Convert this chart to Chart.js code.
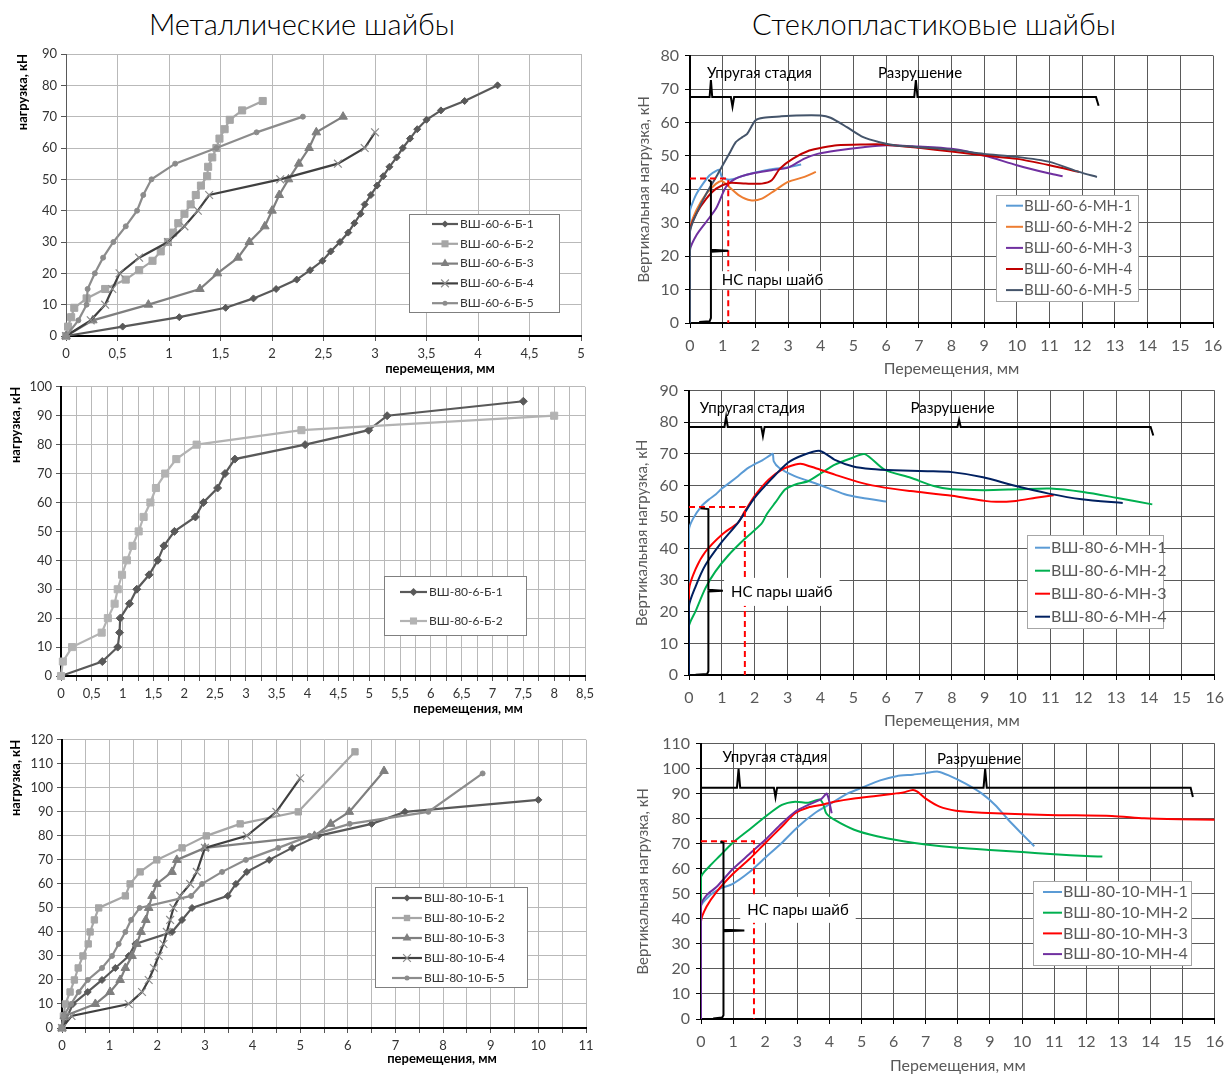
<!DOCTYPE html>
<html lang="ru">
<head>
<meta charset="utf-8">
<script src="https://cdn.jsdelivr.net/npm/chart.js@4.4.1/dist/chart.umd.min.js"></script>
<style>
  html, body { margin: 0; padding: 0; background: #fff; }
  #page { position: relative; width: 1232px; height: 1075px; overflow: hidden; }
  .head { position: absolute; top: 6px; font: 300 29px Lato, sans-serif; text-align: center; color: #000; }
  canvas { position: absolute; }
</style>
</head>
<body>
<div id="page">
  <div class="head" style="left:0;width:604px">Металлические шайбы</div>
  <div class="head" style="left:616px;width:636px">Стеклопластиковые шайбы</div>
  <canvas id="c1" width="600" height="345" style="left:0;top:40px"></canvas>
  <canvas id="c2" width="600" height="345" style="left:0;top:375px"></canvas>
  <canvas id="c3" width="600" height="347" style="left:0;top:728px"></canvas>
  <canvas id="c4" width="617" height="345" style="left:615px;top:40px"></canvas>
  <canvas id="c5" width="617" height="355" style="left:615px;top:375px"></canvas>
  <canvas id="c6" width="617" height="347" style="left:615px;top:728px"></canvas>
</div>
<script>
// ---- металлические шайбы, ВШ-60-6-Б ----
const b60Labels = ["ВШ-60-6-Б-1", "ВШ-60-6-Б-2", "ВШ-60-6-Б-3", "ВШ-60-6-Б-4", "ВШ-60-6-Б-5"];
const b60_1x = [0, 0.55, 1.1, 1.55, 1.82, 2.04, 2.24, 2.37, 2.49, 2.57, 2.66, 2.74, 2.8, 2.86, 2.9, 2.96, 3.02, 3.08, 3.14, 3.21, 3.27, 3.34, 3.41, 3.5, 3.64, 3.87, 4.19];
const b60_1y = [0, 3, 6, 9, 12, 15, 18, 21, 24, 27, 30, 33, 36, 39, 42, 45, 48, 51, 54, 57, 60, 63, 66, 69, 72, 75, 80];
const b60_2x = [0, 0.02, 0.05, 0.08, 0.2, 0.38, 0.58, 0.71, 0.84, 0.92, 0.99, 1.04, 1.09, 1.15, 1.21, 1.26, 1.31, 1.37, 1.38, 1.42, 1.46, 1.49, 1.54, 1.59, 1.71, 1.91];
const b60_2y = [0, 3, 6, 9, 12, 15, 18, 21, 24, 27, 30, 33, 36, 39, 42, 45, 48, 51, 54, 57, 60, 63, 66, 69, 72, 75];
const b60_3x = [0, 0.26, 0.8, 1.3, 1.47, 1.67, 1.78, 1.93, 2.0, 2.07, 2.16, 2.26, 2.36, 2.43, 2.69];
const b60_3y = [0, 5, 10, 15, 20, 25, 30, 35, 40, 45, 50, 55, 60, 65, 70];
const b60_4x = [0, 0.24, 0.38, 0.45, 0.52, 0.71, 0.99, 1.15, 1.28, 1.39, 2.08, 2.64, 2.9, 3.0];
const b60_4y = [0, 5, 10, 15, 20, 25, 30, 35, 40, 45, 50, 55, 60, 65];
const b60_5x = [0, 0.12, 0.2, 0.21, 0.28, 0.36, 0.46, 0.58, 0.69, 0.75, 0.83, 1.06, 1.46, 1.85, 2.3];
const b60_5y = [0, 5, 10, 15, 20, 25, 30, 35, 40, 45, 50, 55, 60, 65, 70];

// ---- ВШ-80-6-Б ----
const b80Labels = ["ВШ-80-6-Б-1", "ВШ-80-6-Б-2"];
const b80_1x = [0, 0.67, 0.92, 0.95, 0.96, 1.11, 1.23, 1.43, 1.57, 1.67, 1.84, 2.18, 2.31, 2.54, 2.66, 2.82, 3.96, 4.99, 5.29, 7.5];
const b80_1y = [0, 5, 10, 15, 20, 25, 30, 35, 40, 45, 50, 55, 60, 65, 70, 75, 80, 85, 90, 95];
const b80_2x = [0, 0.03, 0.18, 0.66, 0.76, 0.87, 0.92, 0.99, 1.07, 1.16, 1.26, 1.34, 1.45, 1.54, 1.69, 1.87, 2.2, 3.9, 8.0];
const b80_2y = [0, 5, 10, 15, 20, 25, 30, 35, 40, 45, 50, 55, 60, 65, 70, 75, 80, 85, 90];

// ---- ВШ-80-10-Б ----
const b8010Labels = ["ВШ-80-10-Б-1", "ВШ-80-10-Б-2", "ВШ-80-10-Б-3", "ВШ-80-10-Б-4", "ВШ-80-10-Б-5"];
const b8010_1x = [0, 0.23, 0.54, 0.84, 1.12, 1.4, 1.54, 2.31, 2.52, 2.73, 3.48, 3.65, 3.88, 4.35, 4.83, 5.38, 6.5, 7.2, 10.0];
const b8010_1y = [0, 10, 15, 20, 25, 30, 35, 40, 45, 50, 55, 60, 65, 70, 75, 80, 85, 90, 95];
const b8010_2x = [0, 0.03, 0.07, 0.17, 0.26, 0.34, 0.44, 0.55, 0.59, 0.68, 0.77, 1.33, 1.43, 1.64, 1.99, 2.52, 3.03, 3.74, 4.96, 6.15];
const b8010_2y = [0, 5, 10, 15, 20, 25, 30, 35, 40, 45, 50, 55, 60, 65, 70, 75, 80, 85, 90, 115];
const b8010_3x = [0, 0.05, 0.7, 1.01, 1.22, 1.33, 1.47, 1.57, 1.66, 1.76, 1.82, 1.89, 1.99, 2.31, 2.41, 3.0, 5.3, 5.64, 6.03, 6.76];
const b8010_3y = [0, 5, 10, 15, 20, 25, 30, 35, 40, 45, 50, 55, 60, 65, 70, 75, 80, 85, 90, 107];
const b8010_4x = [0, 0.2, 1.4, 1.68, 1.82, 1.93, 2.03, 2.13, 2.2, 2.27, 2.34, 2.48, 2.69, 2.83, 3.0, 3.88, 4.5, 5.0];
const b8010_4y = [0, 5, 10, 15, 20, 25, 30, 35, 40, 45, 50, 55, 60, 65, 75, 80, 90, 104];
const b8010_5x = [0, 0.03, 0.19, 0.35, 0.54, 0.84, 1.05, 1.19, 1.33, 1.45, 1.63, 2.71, 2.94, 3.36, 3.86, 4.54, 5.2, 6.04, 7.69, 8.83];
const b8010_5y = [0, 5, 10, 15, 20, 25, 30, 35, 40, 45, 50, 55, 60, 65, 70, 75, 80, 85, 90, 106];

// ---- стеклопластиковые шайбы, ВШ-60-6-МН ----
const mn60Labels = ["ВШ-60-6-МН-1", "ВШ-60-6-МН-2", "ВШ-60-6-МН-3", "ВШ-60-6-МН-4", "ВШ-60-6-МН-5"];
const mn60_1x = [0, 0, 0.1, 0.2, 0.4, 0.6, 0.8, 0.9, 0.97, 1.1, 1.3, 1.6, 2.0, 2.5, 3.0, 3.4];
const mn60_1y = [0, 33.5, 36.5, 38.7, 41.7, 44.2, 45.5, 45.8, 43.8, 43, 43, 44, 45, 46, 46.6, 47.4];
const mn60_2x = [0, 0, 0.2, 0.5, 0.8, 0.97, 1.2, 1.5, 1.85, 2.2, 2.6, 3.0, 3.5, 3.85];
const mn60_2y = [0, 28.3, 33.8, 38.7, 41.7, 42.5, 40.7, 38.2, 36.7, 37.2, 39.7, 42.2, 43.7, 45.2];
const mn60_3x = [0, 0, 0.2, 0.5, 0.8, 1.1, 1.4, 1.9, 2.5, 3.0, 3.5, 3.9, 4.5, 5.3, 6.0, 7.0, 8, 9, 10, 11, 11.4];
const mn60_3y = [0, 21.8, 26.3, 30.3, 34.3, 40.7, 43.2, 44.7, 45.7, 46.5, 49.2, 50.6, 51.6, 52.6, 53.2, 52.8, 52.1, 50.1, 47.2, 44.7, 43.9];
const mn60_4x = [0, 0, 0.2, 0.5, 0.8, 1.2, 1.7, 2.2, 2.5, 2.75, 3.15, 3.65, 4.1, 4.5, 5.3, 5.9, 7.0, 8, 9, 10, 11, 11.9];
const mn60_4y = [0, 27.8, 32.8, 37.2, 40.2, 41.9, 41.7, 41.7, 42.7, 46.2, 49.2, 51.6, 52.6, 53.2, 53.4, 53.4, 52.4, 51.3, 50.1, 49.1, 47.2, 45.2];
const mn60_5x = [0, 0, 0.2, 0.5, 0.8, 1.0, 1.2, 1.4, 1.6, 1.75, 2.0, 2.25, 2.75, 3.25, 4.0, 4.3, 4.8, 5.3, 5.8, 6.3, 6.8, 7.0, 8, 9, 10, 11, 11.9, 12.45];
const mn60_5y = [0, 27.3, 32.8, 38.7, 43.7, 47.2, 50.6, 54.1, 55.6, 56.6, 60.6, 61.4, 61.8, 62.1, 62.1, 61.4, 58.6, 55.6, 54.1, 53.1, 52.8, 52.6, 51.8, 50.6, 49.7, 48.2, 45.2, 43.7];
const brace60x = [0, 0, 0.6, 0.64, 0.68, 1.25, 1.3, 1.35, 6.86, 6.91, 6.96, 12.42, 12.5];
const brace60y = [66, 67.6, 67.6, 72.7, 67.6, 67.6, 64.7, 67.6, 67.6, 72.7, 67.6, 67.6, 65];
const ns60x = [0.28, 0.6, 0.64, 0.64, 1.17, 0.64, 0.64, 0.56];
const ns60y = [0.3, 0.5, 1.5, 21.3, 21.6, 21.9, 42.3, 42.8];
const red60x = [0, 1.17, 1.17];
const red60y = [43.2, 43.2, 0];

// ---- ВШ-80-6-МН ----
const mn80Labels = ["ВШ-80-6-МН-1", "ВШ-80-6-МН-2", "ВШ-80-6-МН-3", "ВШ-80-6-МН-4"];
const mn80_1x = [0, 0, 0.12, 0.37, 0.6, 0.82, 1.0, 1.23, 1.5, 1.73, 2.0, 2.23, 2.45, 2.55, 2.58, 2.75, 3.2, 3.94, 4.74, 5.25, 6.0];
const mn80_1y = [0, 46, 49.4, 53.3, 55.5, 57.2, 59, 60.8, 63, 65, 66.7, 67.9, 69.4, 70, 67.6, 65.5, 63, 60.3, 57.2, 56.1, 54.9];
const mn80_2x = [0, 0, 0.2, 0.5, 0.8, 1.2, 1.7, 2.2, 2.38, 2.63, 2.93, 3.24, 3.64, 4.04, 4.44, 4.94, 5.35, 5.95, 6.75, 7.45, 8, 9, 10, 11, 12, 13, 14.1];
const mn80_2y = [0, 15.5, 20.2, 27.5, 32.7, 37.9, 43.1, 47.8, 51.1, 54.6, 58.75, 60.3, 61.4, 64, 66.6, 68.6, 69.9, 65, 62.4, 59.8, 58.75, 58.5, 58.75, 59, 57.9, 56.1, 54];
const mn80_3x = [0, 0, 0.2, 0.5, 1, 1.5, 1.68, 2, 2.43, 2.83, 3.24, 3.44, 3.84, 4.44, 5.25, 5.95, 6.75, 8, 9, 9.35, 9.95, 10.55, 11.1];
const mn80_3y = [0, 27, 33.5, 39, 44.4, 48.3, 51.5, 56.7, 61.9, 65, 66.6, 66.8, 65.5, 63.4, 60.8, 59.3, 58.2, 56.7, 55.1, 54.8, 55.1, 56.1, 56.9];
const mn80_4x = [0, 0, 0.2, 0.5, 1, 1.5, 2, 2.5, 3, 3.5, 3.99, 4.44, 5, 5.55, 6.25, 7.26, 8, 8.95, 9.95, 10.95, 11.95, 13.2];
const mn80_4y = [0, 21.8, 28, 34.8, 42.1, 48.3, 56.1, 61.9, 67.1, 69.7, 70.9, 68.1, 66, 65.2, 64.8, 64.5, 64.2, 62.6, 59.8, 57.4, 55.6, 54.4];
const brace80x = [0, 0, 1.08, 1.13, 1.18, 2.2, 2.25, 2.3, 8.17, 8.22, 8.27, 14.05, 14.13];
const brace80y = [76.8, 78.5, 78.5, 81.7, 78.5, 78.5, 75.6, 78.5, 78.5, 80.8, 78.5, 78.5, 75.8];
const ns80x = [0.2, 0.55, 0.59, 0.59, 1.03, 0.59, 0.59, 0.35];
const ns80y = [0.1, 0.3, 1.2, 26.4, 26.7, 27.0, 52.5, 52.8];
const red80x = [0, 1.7, 1.7];
const red80y = [53.2, 53.2, 0];

// ---- ВШ-80-10-МН ----
const mn8010Labels = ["ВШ-80-10-МН-1", "ВШ-80-10-МН-2", "ВШ-80-10-МН-3", "ВШ-80-10-МН-4"];
const mn8010_1x = [0, 0, 0.28, 0.58, 0.99, 1.5, 2.01, 2.52, 3.03, 3.54, 4.05, 4.56, 5.07, 5.58, 6.09, 6.6, 7.0, 7.38, 7.73, 8.24, 8.75, 9.16, 9.57, 9.97, 10.38];
const mn8010_1y = [0, 45, 49.4, 52, 54, 58.6, 64.5, 70.4, 76.9, 82.2, 86.1, 90, 92.7, 95.3, 97, 97.6, 98.2, 98.8, 97.2, 94, 90, 85.5, 79.6, 74.3, 69];
const mn8010_2x = [0, 0, 0.28, 0.58, 0.99, 1.5, 2.01, 2.52, 2.93, 3.34, 3.69, 3.8, 3.9, 4.15, 4.77, 5.48, 6.3, 7, 8, 9, 10, 11, 12, 12.5];
const mn8010_2y = [0, 56.6, 61.2, 65.1, 70.4, 75.6, 80.9, 85.5, 86.8, 86.4, 87.7, 86, 82.2, 79.6, 75.6, 73, 71, 69.7, 68.4, 67.5, 66.7, 65.8, 65.1, 64.9];
const mn8010_3x = [0, 0, 0.17, 0.48, 0.99, 1.5, 2.01, 2.52, 2.93, 3.34, 3.74, 4.15, 4.77, 5.38, 6.0, 6.3, 6.6, 6.75, 7.0, 7.43, 7.94, 8.75, 10.8, 12.8, 13.8, 14.9, 16];
const mn8010_3y = [0, 38.9, 44.8, 50.7, 57.9, 63.8, 70.4, 76.9, 82.2, 84.5, 85.5, 86.8, 88.1, 89, 90, 90.5, 91.5, 90.7, 88, 84.8, 83.2, 82.4, 81.5, 81.1, 80.2, 79.8, 79.6];
const mn8010_4x = [0, 0, 0.17, 0.48, 0.99, 1.5, 2.01, 2.52, 2.93, 3.34, 3.74, 3.92, 4.07];
const mn8010_4y = [0, 45.5, 49.4, 52.7, 59.9, 65.8, 71.7, 78.2, 82.8, 85.5, 87.8, 90, 82.2];
const brace8010x = [0, 0, 1.12, 1.17, 1.22, 2.27, 2.32, 2.37, 8.8, 8.85, 8.9, 15.25, 15.32];
const brace8010y = [88.7, 92.4, 92.4, 99.9, 92.4, 92.4, 88.5, 92.4, 92.4, 99.9, 92.4, 92.4, 88.7];
const ns8010x = [0.38, 0.66, 0.7, 0.7, 1.35, 0.7, 0.7, 0.6];
const ns8010y = [0.2, 0.6, 1.5, 35.0, 35.3, 35.6, 70.4, 70.9];
const red8010x = [0, 1.65, 1.65];
const red8010y = [71, 71, 0];

function pts(xs, ys) { return xs.map((x, i) => ({ x: x, y: ys[i] })); }
function comma(v) { return String(+v.toFixed(2)).replace(".", ","); }

function steel(label, xs, ys, color, style, r, markColor) {
  return {
    label, data: pts(xs, ys), showLine: true, tension: 0, clip: 8,
    borderColor: color, backgroundColor: color, borderWidth: 2.2,
    pointStyle: style, pointRadius: r, pointHoverRadius: r,
    pointBackgroundColor: markColor || color, pointBorderColor: markColor || color,
    pointBorderWidth: style === "crossRot" ? 1.2 : 1
  };
}
function glass(label, xs, ys, color) {
  return { label, data: pts(xs, ys), showLine: true, tension: 0.25, borderColor: color,
    backgroundColor: color, borderWidth: 2, pointRadius: 0 };
}
function mark(xs, ys, color, dash) {
  return { note: true, data: pts(xs, ys), showLine: true, tension: 0, borderColor: color,
    borderWidth: 2, borderDash: dash || [], pointRadius: 0, order: -10, clip: false };
}

function marker(ctx, style, x, y, r, color) {
  ctx.fillStyle = color; ctx.strokeStyle = color; ctx.lineWidth = 1.2;
  ctx.beginPath();
  if (style === "rectRot") {
    ctx.moveTo(x, y - r); ctx.lineTo(x + r, y); ctx.lineTo(x, y + r); ctx.lineTo(x - r, y); ctx.closePath(); ctx.fill();
  } else if (style === "rect") {
    const s = r * Math.SQRT1_2; ctx.rect(x - s, y - s, 2 * s, 2 * s); ctx.fill();
  } else if (style === "triangle") {
    let a = 0;
    for (let k = 0; k < 3; k++) { const px = x + Math.sin(a) * r, py = y - Math.cos(a) * r; k ? ctx.lineTo(px, py) : ctx.moveTo(px, py); a += Math.PI * 2 / 3; }
    ctx.closePath(); ctx.fill();
  } else if (style === "crossRot") {
    const s = r * Math.SQRT1_2;
    ctx.moveTo(x - s, y - s); ctx.lineTo(x + s, y + s); ctx.moveTo(x + s, y - s); ctx.lineTo(x - s, y + s); ctx.stroke();
  } else {
    ctx.arc(x, y, r, 0, Math.PI * 2); ctx.fill();
  }
}

// legend drawn as a framed box inside the plot, like the original
const boxLegend = {
  id: "boxLegend",
  afterDraw(chart, args, o) {
    if (o.left === undefined) return;
    const ctx = chart.ctx;
    ctx.save();
    ctx.fillStyle = "#fff";
    ctx.fillRect(o.left, o.top, o.width, o.height);
    ctx.strokeStyle = o.border; ctx.lineWidth = 1;
    ctx.strokeRect(o.left + 0.5, o.top + 0.5, o.width, o.height);
    ctx.font = o.font; ctx.textBaseline = "middle"; ctx.textAlign = "left";
    let row = 0;
    chart.data.datasets.forEach(d => {
      if (d.note) return;
      const y = o.top + o.first + row * o.rowH;
      const x0 = o.left + o.lineX, x1 = x0 + o.lineLen;
      ctx.strokeStyle = d.borderColor; ctx.lineWidth = d.borderWidth; ctx.setLineDash([]);
      ctx.beginPath(); ctx.moveTo(x0, y); ctx.lineTo(x1, y); ctx.stroke();
      if (d.pointRadius) marker(ctx, d.pointStyle, (x0 + x1) / 2, y, d.pointRadius, d.pointBorderColor);
      ctx.fillStyle = o.color;
      ctx.fillText(d.label, x1 + o.gap, y);
      row++;
    });
    ctx.restore();
  }
};

// free text: axis captions and the stage labels
const notes = {
  id: "notes",
  afterDatasetsDraw(chart, args, o) {
    const ctx = chart.ctx;
    (o.items || []).forEach(n => {
      let px = n.px, py = n.py;
      if (n.x !== undefined) { px = chart.scales.x.getPixelForValue(n.x); py = chart.scales.y.getPixelForValue(n.y); }
      ctx.save();
      ctx.font = n.font; ctx.textBaseline = "middle"; ctx.textAlign = n.align || "left";
      const w = ctx.measureText(n.text).width;
      if (n.box) {
        const l = n.align === "center" ? px - w / 2 : px;
        ctx.fillStyle = "#fff";
        ctx.fillRect(l - n.box[0], py - n.box[1], w + 2 * n.box[0], 2 * n.box[1]);
      }
      ctx.fillStyle = n.color || "#000";
      ctx.fillText(n.text, px, py);
      ctx.restore();
    });
  }
};

function steelChart(id, datasets, o) {
  datasets.forEach((d, i) => { d.order = 100 - i; });
  const tickFont = { family: "Lato", size: 13 };
  return new Chart(document.getElementById(id), {
    type: "scatter",
    data: { datasets },
    plugins: [boxLegend, notes],
    options: {
      responsive: false, animation: false, devicePixelRatio: 1,
      layout: { padding: o.pad },
      plugins: {
        legend: { display: false }, tooltip: { enabled: false },
        boxLegend: o.legend,
        notes: { items: [{ text: "перемещения, мм", px: o.xTitle[0], py: o.xTitle[1], align: "center", font: "bold 13px Lato" }] }
      },
      scales: {
        x: {
          type: "linear", min: 0, max: o.xMax,
          afterFit: s => { s.height = o.xH; },
          ticks: { stepSize: o.xStep, autoSkip: false, maxRotation: 0, padding: 5, color: "#333", font: tickFont,
            callback: v => (Math.abs(v / o.xLab - Math.round(v / o.xLab)) < 1e-6 ? comma(v) : "") },
          grid: { color: "#b9b9b9", tickColor: "#555", tickLength: 5 },
          border: { color: "#000", width: 2 }
        },
        y: {
          type: "linear", min: 0, max: o.yMax,
          afterFit: s => { s.width = o.yW; },
          ticks: { stepSize: 10, padding: 4, color: "#333", font: tickFont },
          grid: { color: "#b9b9b9", tickColor: "#555", tickLength: 5 },
          border: { color: o.yBorder || "#000", width: o.yBorderW || 2 },
          title: { display: true, text: "нагрузка, кН", align: "end", color: "#000", padding: 0,
            font: { family: "Lato", size: 13, weight: "bold" } }
        }
      }
    }
  });
}

function glassChart(id, datasets, o) {
  datasets.forEach((d, i) => { if (!d.note) d.order = 100 - i; });
  const tickFont = { family: "Lato", size: 16 };
  const nf = "15px Lato";
  return new Chart(document.getElementById(id), {
    type: "scatter",
    data: { datasets },
    plugins: [boxLegend, notes],
    options: {
      responsive: false, animation: false, devicePixelRatio: 1,
      layout: { padding: o.pad },
      plugins: {
        legend: { display: false }, tooltip: { enabled: false },
        boxLegend: o.legend,
        notes: { items: [
          { text: "Упругая стадия", x: o.elastic[0], y: o.elastic[1], font: nf },
          { text: "Разрушение", x: o.failure[0], y: o.failure[1], font: nf },
          { text: "НС пары шайб", x: o.ns[0], y: o.ns[1], font: nf, box: o.nsBox }
        ] }
      },
      scales: {
        x: {
          type: "linear", min: 0, max: 16,
          afterFit: s => { s.height = o.xH; },
          ticks: { stepSize: 1, autoSkip: false, maxRotation: 0, padding: 8, color: "#595959", font: tickFont },
          grid: { color: "#5a5a5a", tickColor: "#000", tickLength: 5 },
          border: { color: "#000", width: 2 },
          title: { display: true, text: "Перемещения, мм", color: "#595959", padding: { top: 0, bottom: o.xTitlePad },
            font: { family: "Lato", size: 16 } }
        },
        y: {
          type: "linear", min: 0, max: o.yMax,
          afterFit: s => { s.width = o.yW; },
          ticks: { stepSize: 10, padding: 6, color: "#595959", font: tickFont },
          grid: { color: "#5a5a5a", tickColor: "#000", tickLength: 5 },
          border: { color: "#000", width: 2 },
          title: { display: true, text: "Вертикальная нагрузка, кН", color: "#595959", padding: 0,
            font: { family: "Lato", size: 15 } }
        }
      }
    }
  });
}

const smallLeg = { font: "12px Lato", color: "#333", border: "#7f7f7f", gap: 2 };
const bigLeg = { color: "#595959", border: "#a6a6a6", gap: 1 };

steelChart("c1", [
  steel(b60Labels[0], b60_1x, b60_1y, "#595959", "rectRot", 3.5),
  steel(b60Labels[1], b60_2x, b60_2y, "#a6a6a6", "rect", 5),
  steel(b60Labels[2], b60_3x, b60_3y, "#7f7f7f", "triangle", 5),
  steel(b60Labels[3], b60_4x, b60_4y, "#404040", "crossRot", 5.5, "#8c8c8c"),
  steel(b60Labels[4], b60_5x, b60_5y, "#8c8c8c", "circle", 2.5)
], { pad: { left: 15, top: 14, right: 19, bottom: 0 }, yW: 51, xH: 49, xMax: 5, xStep: 0.5, xLab: 0.5, yMax: 90,
     yBorder: "#595959", yBorderW: 1, xTitle: [440, 329],
     legend: Object.assign({ left: 409, top: 174, width: 150, height: 98, first: 10, rowH: 19.8, lineX: 23, lineLen: 26 }, smallLeg) });

steelChart("c2", [
  steel(b80Labels[0], b80_1x, b80_1y, "#595959", "rectRot", 4),
  steel(b80Labels[1], b80_2x, b80_2y, "#b3b3b3", "rect", 5)
], { pad: { left: 8, top: 11, right: 15, bottom: 0 }, yW: 53, xH: 44, xMax: 8.5, xStep: 0.25, xLab: 0.5, yMax: 100,
     xTitle: [468, 334],
     legend: Object.assign({ left: 384, top: 201, width: 142, height: 59, first: 16, rowH: 29, lineX: 16, lineLen: 27 }, smallLeg) });

steelChart("c3", [
  steel(b8010Labels[0], b8010_1x, b8010_1y, "#595959", "rectRot", 3.5),
  steel(b8010Labels[1], b8010_2x, b8010_2y, "#a6a6a6", "rect", 4.5),
  steel(b8010Labels[2], b8010_3x, b8010_3y, "#7f7f7f", "triangle", 5),
  steel(b8010Labels[3], b8010_4x, b8010_4y, "#404040", "crossRot", 5.5, "#8c8c8c"),
  steel(b8010Labels[4], b8010_5x, b8010_5y, "#8c8c8c", "circle", 2.5)
], { pad: { left: 8, top: 11, right: 14, bottom: 0 }, yW: 54, xH: 47, xMax: 11, xStep: 0.5, xLab: 1, yMax: 120,
     xTitle: [442, 331],
     legend: Object.assign({ left: 375, top: 159, width: 152, height: 100, first: 11, rowH: 20, lineX: 17, lineLen: 30 }, smallLeg) });

glassChart("c4", [
  glass(mn60Labels[0], mn60_1x, mn60_1y, "#5B9BD5"),
  glass(mn60Labels[1], mn60_2x, mn60_2y, "#ED7D31"),
  glass(mn60Labels[2], mn60_3x, mn60_3y, "#7030A0"),
  glass(mn60Labels[3], mn60_4x, mn60_4y, "#C00000"),
  glass(mn60Labels[4], mn60_5x, mn60_5y, "#44546A"),
  mark(brace60x, brace60y, "#000"),
  mark(ns60x, ns60y, "#000"),
  mark(red60x, red60y, "#FF0000", [6, 4])
], { pad: { left: 20, top: 14, right: 19, bottom: 0 }, yW: 55, xH: 62, yMax: 80, xTitlePad: 7,
     elastic: [0.52, 74.7], failure: [5.75, 74.7], ns: [0.97, 12.8], nsBox: [5, 9],
     legend: Object.assign({ left: 381, top: 155, width: 142, height: 106, first: 10.7, rowH: 21.1, lineX: 10, lineLen: 17, font: "15px Lato" }, bigLeg) });

glassChart("c5", [
  glass(mn80Labels[0], mn80_1x, mn80_1y, "#5B9BD5"),
  glass(mn80Labels[1], mn80_2x, mn80_2y, "#00B050"),
  glass(mn80Labels[2], mn80_3x, mn80_3y, "#FF0000"),
  glass(mn80Labels[3], mn80_4x, mn80_4y, "#002060"),
  mark(brace80x, brace80y, "#000"),
  mark(ns80x, ns80y, "#000"),
  mark(red80x, red80y, "#FF0000", [6, 4])
], { pad: { left: 18, top: 12, right: 11, bottom: 0 }, yW: 56, xH: 55, yMax: 90, xTitlePad: 0,
     elastic: [0.33, 84.4], failure: [6.74, 84.4], ns: [1.28, 26.3], nsBox: [7, 14],
     legend: Object.assign({ left: 412, top: 160, width: 136, height: 93, first: 12.7, rowH: 23, lineX: 8, lineLen: 15, font: "16px Lato" }, bigLeg) });

glassChart("c6", [
  glass(mn8010Labels[0], mn8010_1x, mn8010_1y, "#5B9BD5"),
  glass(mn8010Labels[1], mn8010_2x, mn8010_2y, "#00B050"),
  glass(mn8010Labels[2], mn8010_3x, mn8010_3y, "#FF0000"),
  glass(mn8010Labels[3], mn8010_4x, mn8010_4y, "#7030A0"),
  mark(brace8010x, brace8010y, "#000"),
  mark(ns8010x, ns8010y, "#000"),
  mark(red8010x, red8010y, "#FF0000", [6, 4])
], { pad: { left: 19, top: 11, right: 9, bottom: 0 }, yW: 67, xH: 56, yMax: 110, xTitlePad: 0,
     elastic: [0.67, 104.5], failure: [7.35, 103.8], ns: [1.44, 43.6], nsBox: [7, 13],
     legend: Object.assign({ left: 418, top: 153, width: 158, height: 84, first: 11, rowH: 20.7, lineX: 10, lineLen: 19, font: "16px Lato" }, bigLeg) });
</script>
</body>
</html>
